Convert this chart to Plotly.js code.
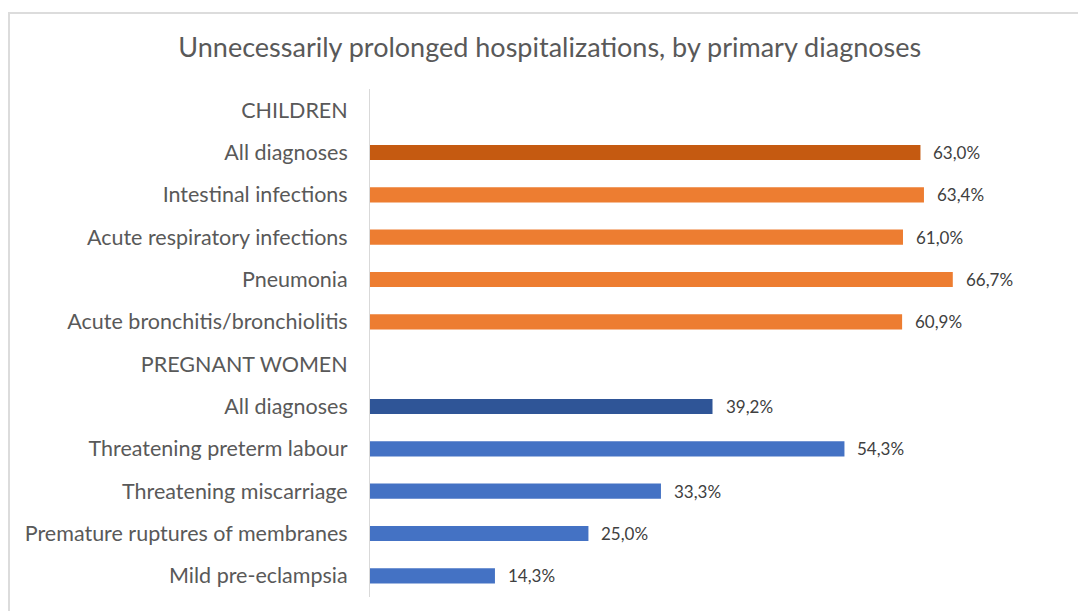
<!DOCTYPE html>
<html>
<head>
<meta charset="utf-8">
<script src="https://cdn.plot.ly/plotly-3.0.1.min.js"></script>
<style>
  html, body { margin: 0; padding: 0; background: #fff; }
  #wrap { position: relative; width: 1078px; height: 611px; }
  #chart { width: 1078px; height: 611px; }
  #frame { position: absolute; left: 8px; top: 12px; right: -4px; bottom: -4px;
           border-top: 2px solid #dcdcdc; border-left: 2px solid #dcdcdc; pointer-events: none; }
</style>
</head>
<body>
<div id="wrap">
  <div id="chart"></div>
  <div id="frame"></div>
</div>
<script>
const categories = [
  "CHILDREN",
  "All diagnoses",
  "Intestinal infections",
  "Acute respiratory infections",
  "Pneumonia",
  "Acute bronchitis/bronchiolitis",
  "PREGNANT WOMEN",
  "All diagnoses",
  "Threatening preterm labour",
  "Threatening miscarriage",
  "Premature ruptures of membranes",
  "Mild pre-eclampsia"
];
const values = [null, 63.0, 63.4, 61.0, 66.7, 60.9, null, 39.2, 54.3, 33.3, 25.0, 14.3];
const barColors = [
  "#ED7D31", "#C55A11", "#ED7D31", "#ED7D31", "#ED7D31", "#ED7D31",
  "#4472C4", "#2F5597", "#4472C4", "#4472C4", "#4472C4", "#4472C4"
];

const idx = categories.map((c, i) => i);
const labels = values.map(v => v === null ? "" : v.toFixed(1).replace(".", ",") + "%");

const FONT = "Lato, 'Open Sans', sans-serif";

const trace = {
  type: "bar",
  orientation: "h",
  x: values,
  y: idx,
  width: 0.36,
  marker: { color: barColors },
  hoverinfo: "skip"
};

const annotations = values.map((v, i) => v === null ? null : ({
  x: v, y: i, xref: "x", yref: "y",
  text: labels[i], showarrow: false,
  xanchor: "left", yanchor: "middle", xshift: 11,
  font: { family: FONT, size: 17, color: "#404040" }
})).filter(a => a);

const layout = {
  width: 1078, height: 611,
  margin: { l: 370, r: 9, t: 89, b: 14 },
  paper_bgcolor: "#ffffff",
  plot_bgcolor: "#ffffff",
  showlegend: false,
  title: {
    text: "Unnecessarily prolonged hospitalizations, by primary diagnoses",
    x: 0.51, xref: "container", xanchor: "center",
    y: 0.922, yref: "container", yanchor: "middle",
    font: { family: FONT, size: 27, color: "#595959" }
  },
  xaxis: {
    range: [0, 80],
    showgrid: false, zeroline: false, showticklabels: false, showline: false, fixedrange: true
  },
  yaxis: {
    tickvals: idx,
    ticktext: categories,
    autorange: false,
    range: [11.5, -0.5],
    showline: true, linecolor: "#d9d9d9", linewidth: 1,
    showgrid: false, zeroline: false,
    ticks: "", ticklabelstandoff: 17,
    tickfont: { family: FONT, size: 21.5, color: "#595959" },
    fixedrange: true
  },
  annotations: annotations
};

Plotly.newPlot("chart", [trace], layout, { displayModeBar: false, staticPlot: true });
</script>
</body>
</html>
